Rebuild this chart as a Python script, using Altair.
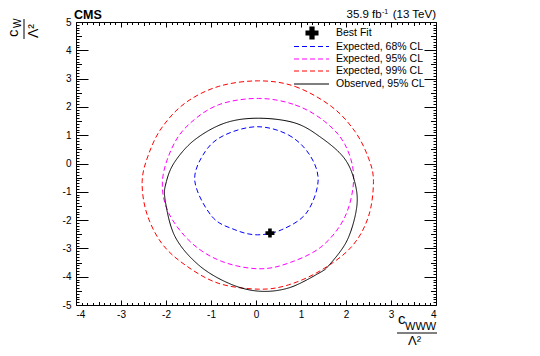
import altair as alt
import pandas as pd

# ---- contour points (c_WWW/Lambda^2, c_W/Lambda^2) ----
exp68_x = [0.03, 0.72, 1.19, 1.38, 1.12, 0.57, 0.03, -0.47, -0.98, -1.36, -1.13, -0.69]
exp68_y = [1.30, 1.01, 0.31, -0.62, -1.75, -2.34, -2.52, -2.34, -1.87, -0.62, 0.42, 1.01]

exp95_x = [0.05, 0.87, 1.53, 1.98, 2.17, 1.98, 1.46, 0.72, 0.05, -0.76, -1.43, -1.94, -2.08, -1.87, -1.50, -0.84]
exp95_y = [2.30, 2.07, 1.48, 0.66, -0.50, -1.87, -2.93, -3.52, -3.72, -3.46, -2.81, -1.75, -0.63, 0.54, 1.37, 2.07]

exp99_x = [0.05, 0.87, 1.68, 2.20, 2.50, 2.61, 2.50, 2.13, 1.46, 0.72, 0.05, -0.84, -1.58, -2.10, -2.43, -2.53, -2.39, -2.10, -1.58, -0.84]
exp99_y = [2.92, 2.72, 2.01, 1.13, 0.19, -0.63, -1.87, -2.93, -3.76, -4.29, -4.44, -4.23, -3.58, -2.81, -1.75, -0.63, 0.31, 1.25, 2.13, 2.72]

obs95_x = [0.05, 0.87, 1.46, 1.96, 2.19, 2.24, 2.03, 1.63, 1.38, 0.72, 0.05, -0.61, -1.28, -1.80, -2.02, -1.99, -1.80, -1.36, -0.69]
obs95_y = [1.60, 1.43, 0.90, 0.19, -0.63, -1.52, -2.70, -3.58, -3.89, -4.40, -4.51, -4.23, -3.58, -2.58, -1.28, -0.63, 0.07, 0.84, 1.43]

best_fit_x = [0.31]
best_fit_y = [-2.46]

series_names = ["Expected, 68% CL", "Expected, 95% CL", "Expected, 99% CL", "Observed, 95% CL"]
series_colors = ["#0000ff", "#ff00ff", "#ff0000", "#000000"]
series_dashes = [[5, 3], [5, 3], [5, 3], [1, 0]]

x_major = [-4, -3, -2, -1, 0, 1, 2, 3, 4]
y_major = [-5, -4, -3, -2, -1, 0, 1, 2, 3, 4, 5]

# axis decoration (minor ticks)
x_minor = [round(-4 + 0.125 * i, 3) for i in range(65) if i % 8 not in (0, 4)]
x_mid = [round(-3.5 + i, 3) for i in range(8)]
y_minor = [round(-5 + 0.1 * i, 3) for i in range(101) if i % 10 not in (0, 5)]
y_mid = [round(-4.5 + i, 3) for i in range(10)]

W, H = 360, 283
FONT = "Liberation Sans"

rows = []
for name, xs_, ys_ in zip(series_names, [exp68_x, exp95_x, exp99_x, obs95_x],
                          [exp68_y, exp95_y, exp99_y, obs95_y]):
    for i, (a, b) in enumerate(zip(xs_, ys_)):
        rows.append({"series": name, "x": a, "y": b, "i": i})
df = pd.DataFrame(rows)
bf = pd.DataFrame({"x": best_fit_x, "y": best_fit_y})

xsc = alt.Scale(domain=[-4, 4], nice=False, zero=False)
ysc = alt.Scale(domain=[-5, 5], nice=False, zero=False)


def tick_axis(orient, offset, values, size):
    return alt.Axis(orient=orient, offset=offset, values=values, tickSize=size,
                    labels=False, domain=False, grid=False, title=None,
                    tickColor="black", tickWidth=1)


lines = alt.Chart(df).mark_line(interpolate="cardinal-closed", strokeWidth=1).encode(
    x=alt.X("x:Q", scale=xsc,
            axis=alt.Axis(orient="bottom", values=x_major, tickSize=0, labelPadding=4,
                          domain=False, grid=False, title=None, labelFont=FONT,
                          labelFontSize=10, labelColor="black",
                          labelExpr="'' + datum.value")),
    y=alt.Y("y:Q", scale=ysc,
            axis=alt.Axis(orient="left", values=y_major, tickSize=0, labelPadding=5,
                          domain=False, grid=False, title=None, labelFont=FONT,
                          labelFontSize=10, labelColor="black",
                          labelExpr="'' + datum.value")),
    color=alt.Color("series:N", scale=alt.Scale(domain=series_names, range=series_colors), legend=None),
    strokeDash=alt.StrokeDash("series:N", scale=alt.Scale(domain=series_names, range=series_dashes), legend=None),
    order=alt.Order("i:Q"),
    detail="series:N",
)


def tick_layer(xaxis, yaxis):
    return alt.Chart(df).mark_point(opacity=0).encode(
        x=alt.X("x:Q", scale=xsc, axis=xaxis),
        y=alt.Y("y:Q", scale=ysc, axis=yaxis),
    )


ticks = [
    tick_layer(tick_axis("top", -H, x_major, 5), tick_axis("right", -W, y_major, 12)),
    tick_layer(tick_axis("top", -H, x_mid, 3.5), tick_axis("right", -W, y_mid, 5.5)),
    tick_layer(tick_axis("top", -H, x_minor, 2.5), tick_axis("right", -W, y_minor, 3)),
    tick_layer(tick_axis("bottom", -H, x_major, 5), tick_axis("left", -W, y_major, 12)),
    tick_layer(tick_axis("bottom", -H, x_mid, 3.5), tick_axis("left", -W, y_mid, 5.5)),
    tick_layer(tick_axis("bottom", -H, x_minor, 2.5), tick_axis("left", -W, y_minor, 3)),
]

best = alt.Chart(bf).mark_point(shape="cross", filled=True, size=81, color="black", opacity=1).encode(
    x=alt.X("x:Q", scale=xsc, axis=None),
    y=alt.Y("y:Q", scale=ysc, axis=None),
)

# ---- legend (manual) ----
legend_layers = [
    alt.Chart().mark_point(shape="cross", filled=True, size=170, color="black", opacity=1).encode(
        x=alt.value(236), y=alt.value(11)),
    alt.Chart().mark_text(align="left", baseline="middle", font=FONT, fontSize=10.5, color="black").encode(
        x=alt.value(260), y=alt.value(11), text=alt.value("Best Fit")),
]
for name, col, dash, ym in zip(series_names, series_colors, series_dashes, [24.5, 37, 49, 62]):
    legend_layers.append(
        alt.Chart().mark_rule(color=col, strokeDash=dash, strokeWidth=1.2 if col == "#000000" else 1).encode(
            x=alt.value(218), x2=alt.value(253), y=alt.value(ym)))
    legend_layers.append(
        alt.Chart().mark_text(align="left", baseline="middle", font=FONT, fontSize=10.5, color="black").encode(
            x=alt.value(260), y=alt.value(ym), text=alt.value(name)))


# ---- header texts ----
def txt(s, x, y, size, align="left", weight="normal", angle=0, baseline="alphabetic"):
    kw = dict(align=align, baseline=baseline, font=FONT, fontSize=size, fontWeight=weight, color="black")
    if angle:
        kw["angle"] = angle
    return alt.Chart().mark_text(**kw).encode(x=alt.value(x), y=alt.value(y), text=alt.value(s))


texts = [
    txt("CMS", -2, -2.8, 12.5, weight="bold"),
    txt("35.9 fb", 270.5, -4.5, 11.5),
    txt("-1", 306, -8, 7),
    txt("(13 TeV)", 360, -4.5, 11.5, align="right"),
    # y title  c_W / Lambda^2 (rotated)
    txt("c", -58, 15, 15, angle=270),
    txt("W", -55.5, 6, 10, angle=270),
    alt.Chart().mark_rule(color="black", strokeWidth=1).encode(
        x=alt.value(-52), y=alt.value(-3), y2=alt.value(17)),
    txt("Λ²", -38, 16, 14, angle=270),
    # x title  c_WWW / Lambda^2
    txt("c", 322, 302, 15),
    txt("WWW", 329, 308, 11),
    alt.Chart().mark_rule(color="black", strokeWidth=1).encode(
        x=alt.value(321), x2=alt.value(361), y=alt.value(311)),
    txt("Λ²", 332, 322.5, 13),
]

chart = alt.layer(lines, *ticks, best, *legend_layers, *texts).resolve_axis(
    x="independent", y="independent"
).properties(
    width=W, height=H,
    autosize=alt.AutoSizeParams(type="none"),
    padding={"left": 68, "top": 14, "right": 96, "bottom": 43},
    background="white",
).configure_view(stroke="black", strokeWidth=1)

chart.save("out.html", embed_options={"renderer": "svg", "actions": False})
